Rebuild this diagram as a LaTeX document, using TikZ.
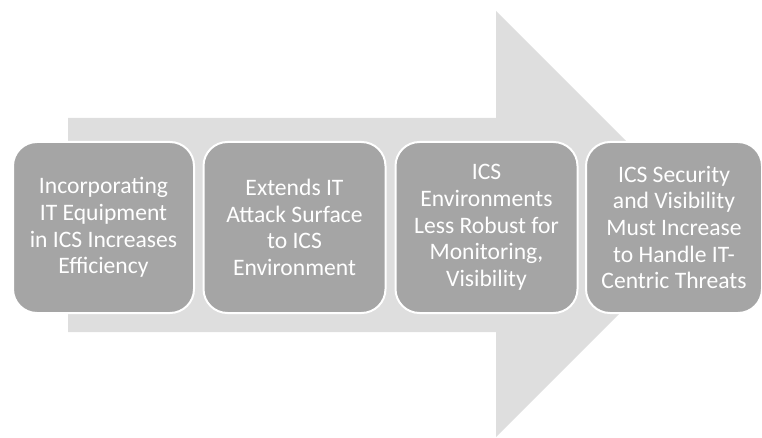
\documentclass[tikz,border=0pt]{standalone}
\usepackage{fontspec}
\setmainfont{Carlito}
\definecolor{arrowgray}{HTML}{DEDEDE}
\definecolor{boxgray}{HTML}{A5A5A5}
\begin{document}
\begin{tikzpicture}[x=1pt,y=-1pt,
  stage/.style={draw=white, line width=2pt, fill=boxgray, rounded corners=24pt,
    text=white, font=\fontsize{23.6}{26.7}\selectfont, align=center,
    minimum height=171pt, inner sep=0pt, anchor=north west}]
\useasboundingbox (0,0) rectangle (762,438);
\fill[arrowgray] (68,118) -- (496,118) -- (496,11) -- (709,224) -- (496,437)
  -- (496,332) -- (68,332) -- cycle;
\node[stage, minimum width=181pt] (s1) at (12,141)
  {Incorporating\\IT Equipment\\in ICS Increases\\Efficiency};
\node[stage, minimum width=182pt] (s2) at (202.5,141)
  {Extends IT\\Attack Surface\\to ICS\\Environment};
\node[stage, minimum width=182pt] (s3) at (394.5,141)
  {ICS\\Environments\\Less Robust for\\Monitoring,\\Visibility};
\node[stage, minimum width=176pt] (s4) at (585,141)
  {ICS Security\\and Visibility\\Must Increase\\to Handle IT-\\Centric Threats};
\end{tikzpicture}
\end{document}
